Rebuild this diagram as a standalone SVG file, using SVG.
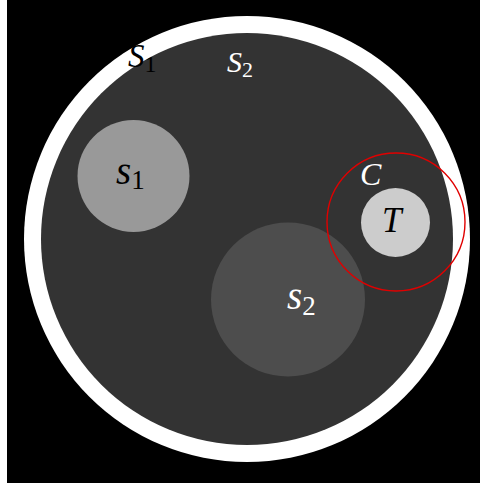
<svg xmlns="http://www.w3.org/2000/svg" width="480" height="483" viewBox="0 0 480 483">
<style>
.lbl{font-family:"Liberation Serif","DejaVu Serif",serif;}
.v{font-style:italic;}
.sub{font-style:normal;}
</style>
<rect x="0" y="0" width="480" height="483" fill="#ffffff"/>
<rect x="7" y="0" width="473" height="483" fill="#000000"/>
<g id="S1">
<circle cx="247" cy="239" r="223" fill="#ffffff"/>
</g>
<g id="S2">
<circle cx="247" cy="239" r="206" fill="#333333"/>
</g>
<g id="s1">
<circle cx="133.5" cy="176" r="56" fill="#999999"/>
<text class="lbl" x="116" y="184" font-size="39" fill="#000"><tspan class="v">s</tspan><tspan class="sub" font-size="27" dy="5">1</tspan></text>
</g>
<g id="s2n">
<circle cx="288" cy="299.5" r="77" fill="#4d4d4d"/>
<text class="lbl" x="287" y="309" font-size="39" fill="#fff"><tspan class="v">s</tspan><tspan class="sub" font-size="27" dy="6">2</tspan></text>
</g>
<g id="T">
<circle cx="395.5" cy="222.5" r="34.5" fill="#cccccc"/>
<text class="lbl v" x="382" y="232" font-size="35" fill="#000">T</text>
</g>
<g id="C">
<circle cx="396" cy="222" r="69" fill="none" stroke="#e00000" stroke-width="1.4"/>
<text class="lbl v" x="360" y="185" font-size="32" fill="#fff">C</text>
</g>
<g id="labels">
<text class="lbl" x="128" y="67" font-size="33" fill="#000"><tspan class="v">S</tspan><tspan class="sub" font-size="24" dy="5">1</tspan></text>
<text class="lbl" x="227" y="72" font-size="30" fill="#fff"><tspan class="v">S</tspan><tspan class="sub" font-size="22" dy="5">2</tspan></text>
</g>
<g id="connectors"></g>
</svg>
